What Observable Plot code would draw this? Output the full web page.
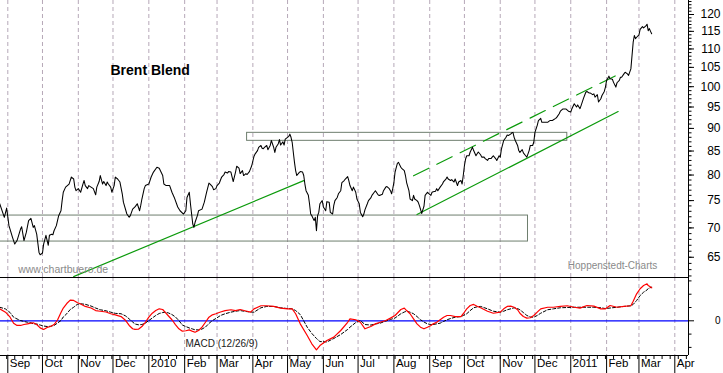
<!DOCTYPE html>
<html><head><meta charset="utf-8">
<script src="https://cdn.jsdelivr.net/npm/d3@7"></script>
<script src="https://cdn.jsdelivr.net/npm/@observablehq/plot@0.6"></script>
<style>
body{margin:0;background:#fff;}
#chart svg{display:block;}
#bottom{margin-top:-1px;}
</style></head><body><div id="chart"><div id="top"></div><div id="bottom"></div></div>
<script>
// ---------- Price (Brent Blend, USD) ----------
const priceDates = [
"2009-08-25","2009-08-29","2009-08-31","2009-09-02","2009-09-05","2009-09-07","2009-09-09","2009-09-12","2009-09-13","2009-09-15",
"2009-09-17","2009-09-19","2009-09-21","2009-09-23","2009-09-24","2009-09-26","2009-09-28","2009-09-29","2009-10-01","2009-10-02",
"2009-10-04","2009-10-06","2009-10-07","2009-10-09","2009-10-10","2009-10-11","2009-10-13","2009-10-15","2009-10-17","2009-10-18",
"2009-10-19","2009-10-21","2009-10-24","2009-10-26","2009-10-28","2009-10-29","2009-10-30","2009-11-01","2009-11-03","2009-11-05",
"2009-11-06","2009-11-07","2009-11-09","2009-11-10","2009-11-12","2009-11-14","2009-11-16","2009-11-17","2009-11-19","2009-11-20",
"2009-11-22","2009-11-23","2009-11-25","2009-11-26","2009-11-27","2009-11-29","2009-11-30","2009-12-02","2009-12-03","2009-12-05",
"2009-12-06","2009-12-07",
"2009-12-09","2009-12-10","2009-12-13","2009-12-15","2009-12-16","2009-12-18","2009-12-20","2009-12-21","2009-12-22","2009-12-24",
"2009-12-25","2009-12-26","2009-12-28","2009-12-29","2010-01-01","2010-01-03","2010-01-05","2010-01-08","2010-01-10","2010-01-13",
"2010-01-14","2010-01-16","2010-01-19","2010-01-21","2010-01-23","2010-01-26","2010-01-28","2010-01-31","2010-02-02","2010-02-03",
"2010-02-05","2010-02-06","2010-02-07","2010-02-08","2010-02-09","2010-02-10","2010-02-12","2010-02-13","2010-02-16","2010-02-18",
"2010-02-20","2010-02-22","2010-02-23","2010-02-25","2010-02-26","2010-02-28","2010-03-01","2010-03-03","2010-03-05","2010-03-07",
"2010-03-08","2010-03-10","2010-03-11",
"2010-03-13","2010-03-15","2010-03-17","2010-03-18","2010-03-20","2010-03-21","2010-03-23","2010-03-24","2010-03-26","2010-03-27",
"2010-03-29","2010-03-31","2010-04-02","2010-04-03","2010-04-05","2010-04-06","2010-04-08","2010-04-09","2010-04-10","2010-04-11",
"2010-04-13","2010-04-14","2010-04-16","2010-04-17","2010-04-19","2010-04-20","2010-04-21","2010-04-23","2010-04-24","2010-04-25",
"2010-04-27","2010-04-28","2010-04-29","2010-05-01","2010-05-02","2010-05-03","2010-05-04","2010-05-05","2010-05-06","2010-05-07",
"2010-05-08","2010-05-09","2010-05-11","2010-05-12","2010-05-14","2010-05-15","2010-05-16","2010-05-17","2010-05-19","2010-05-20",
"2010-05-21","2010-05-22","2010-05-24","2010-05-25","2010-05-26","2010-05-27","2010-05-28","2010-05-29","2010-05-31","2010-06-01",
"2010-06-03","2010-06-04","2010-06-06","2010-06-07","2010-06-09","2010-06-10","2010-06-11","2010-06-13","2010-06-14","2010-06-16",
"2010-06-17","2010-06-19","2010-06-20","2010-06-22","2010-06-23","2010-06-24","2010-06-26","2010-06-27","2010-06-29","2010-06-30",
"2010-07-02","2010-07-03","2010-07-05","2010-07-06","2010-07-07","2010-07-09","2010-07-10","2010-07-12","2010-07-13","2010-07-15",
"2010-07-16","2010-07-18","2010-07-19","2010-07-20","2010-07-22","2010-07-23","2010-07-25","2010-07-26","2010-07-28","2010-07-29",
"2010-07-30","2010-07-31","2010-08-01","2010-08-02","2010-08-04","2010-08-05","2010-08-07","2010-08-08","2010-08-10","2010-08-11",
"2010-08-12","2010-08-14","2010-08-15","2010-08-17","2010-08-18","2010-08-19","2010-08-21","2010-08-22","2010-08-23","2010-08-24",
"2010-08-25","2010-08-27","2010-08-28","2010-08-30","2010-08-31","2010-09-02","2010-09-03","2010-09-04","2010-09-06","2010-09-07",
"2010-09-08","2010-09-10","2010-09-12",
"2010-09-13","2010-09-15","2010-09-16","2010-09-17","2010-09-19","2010-09-20","2010-09-22","2010-09-23","2010-09-25","2010-09-26",
"2010-09-28","2010-09-29","2010-09-30","2010-10-01","2010-10-02","2010-10-03","2010-10-05","2010-10-06","2010-10-08","2010-10-09",
"2010-10-11","2010-10-12","2010-10-13","2010-10-15","2010-10-16","2010-10-18","2010-10-19","2010-10-21","2010-10-22","2010-10-24",
"2010-10-25","2010-10-26","2010-10-28","2010-10-29","2010-10-31","2010-11-01","2010-11-02","2010-11-04","2010-11-06","2010-11-07",
"2010-11-08","2010-11-10","2010-11-11","2010-11-12","2010-11-13","2010-11-14","2010-11-16","2010-11-17","2010-11-18","2010-11-20",
"2010-11-21","2010-11-23","2010-11-24","2010-11-26","2010-11-27","2010-11-29","2010-11-30","2010-12-01","2010-12-03","2010-12-04",
"2010-12-06","2010-12-07","2010-12-09","2010-12-10","2010-12-12","2010-12-13","2010-12-14","2010-12-16","2010-12-17","2010-12-19",
"2010-12-20","2010-12-22",
"2010-12-23","2010-12-25","2010-12-28","2010-12-30","2011-01-01","2011-01-02","2011-01-04","2011-01-06","2011-01-07","2011-01-09",
"2011-01-10","2011-01-12","2011-01-14","2011-01-15","2011-01-17","2011-01-18","2011-01-20","2011-01-21","2011-01-22","2011-01-24",
"2011-01-25","2011-01-27","2011-01-28","2011-01-30","2011-01-31","2011-02-01","2011-02-03","2011-02-04","2011-02-06","2011-02-07",
"2011-02-09","2011-02-10","2011-02-12","2011-02-13","2011-02-14","2011-02-16","2011-02-17","2011-02-19","2011-02-20","2011-02-22",
"2011-02-23","2011-02-24","2011-02-25","2011-02-26","2011-02-27","2011-03-01","2011-03-02","2011-03-04","2011-03-05","2011-03-07",
"2011-03-08","2011-03-09","2011-03-10","2011-03-11","2011-03-12"
];
const priceValues = [
74.4,71.9,73.6,70.4,68.4,67.2,67.8,69.8,70.2,67.8,
69.2,71.3,71.7,70.1,70.4,68.9,65.8,65.4,65.7,67.2,
68.7,67.0,68.7,68.9,68.8,69.5,70.4,72.2,73.1,75.0,
76.6,77.6,78.2,79.6,79.2,77.6,76.9,77.3,76.6,78.2,
78.9,77.9,77.3,77.9,77.6,77.3,76.1,77.6,78.7,79.9,
78.2,78.7,77.9,78.6,78.2,77.6,76.6,77.9,79.6,79.2,
78.9,78.6,
76.3,74.7,72.5,71.9,72.2,73.4,73.8,74.1,74.4,73.1,
74.1,75.3,77.3,77.9,78.2,79.6,80.6,81.6,81.4,79.9,
78.2,77.9,77.9,76.6,75.6,73.8,73.1,72.5,73.1,75.6,
76.6,74.4,72.5,70.7,70.1,71.0,72.2,73.1,73.4,74.7,
76.6,78.4,78.2,77.7,77.1,77.3,77.9,78.4,79.6,80.1,
80.6,80.4,80.7,
80.6,78.7,80.6,81.8,81.4,80.3,80.9,79.9,80.3,80.1,
80.7,81.9,83.9,84.4,85.1,85.8,86.2,85.6,85.5,85.8,
86.2,85.3,86.2,87.3,85.8,84.7,85.8,86.6,87.5,86.3,
87.0,86.3,87.6,88.0,88.2,88.7,88.0,86.9,84.7,82.6,
80.9,79.9,80.5,80.7,80.6,79.9,78.2,76.9,76.0,74.4,
72.5,72.2,71.3,71.9,69.5,72.2,72.8,74.4,75.0,73.8,
73.1,74.8,74.7,72.8,72.5,74.1,75.0,75.6,76.3,76.9,
78.5,78.9,79.2,79.7,78.9,77.9,76.9,77.6,76.6,75.3,
74.4,72.8,72.0,72.5,73.3,74.4,75.0,75.5,76.0,76.6,
76.9,76.2,76.0,76.0,76.2,76.9,77.6,77.7,77.3,76.9,
76.3,77.3,78.5,80.6,82.4,82.6,81.6,81.3,80.9,79.9,
78.5,76.9,75.3,75.0,76.0,75.3,75.0,74.7,74.1,73.4,
72.6,73.9,76.0,76.6,76.4,76.0,76.6,76.7,76.8,77.3,
76.9,77.6,78.2,
78.7,79.2,79.6,79.2,78.9,79.1,78.6,79.2,77.9,78.6,
78.9,78.2,79.9,81.9,83.3,84.0,84.0,84.8,85.8,85.1,
84.0,84.4,84.8,84.2,83.7,83.7,83.4,83.0,83.4,83.4,
83.7,84.0,83.4,83.0,84.0,83.7,85.4,87.3,88.0,88.5,
88.4,88.7,89.0,89.1,88.0,87.3,86.2,85.1,84.7,85.3,
84.6,84.0,83.7,85.1,86.2,86.2,86.9,89.1,90.7,91.8,
92.3,91.4,91.4,91.4,91.4,91.6,91.8,91.8,92.0,92.3,
92.6,93.4,
94.0,94.5,94.5,94.0,93.8,94.6,95.8,95.0,95.5,94.6,
95.4,97.1,98.6,98.8,98.4,98.4,98.0,98.2,97.4,98.0,
96.2,97.0,97.8,98.8,99.9,101.6,102.7,102.0,101.9,101.1,
99.9,101.0,101.6,102.4,102.4,103.3,103.7,103.3,102.9,104.6,
108.2,111.9,113.8,112.9,113.3,114.0,115.6,116.4,116.0,116.6,
117.1,115.2,115.8,115.0,114.3
];

// ---------- MACD (12/26/9) and signal ----------
const macdDates = [
"2009-08-25","2009-08-30","2009-09-03","2009-09-06","2009-09-09","2009-09-12","2009-09-15","2009-09-18","2009-09-21","2009-09-23",
"2009-09-26","2009-09-29","2009-10-02","2009-10-05","2009-10-08","2009-10-11","2009-10-14","2009-10-17","2009-10-19","2009-10-22",
"2009-10-25","2009-10-28","2009-10-31","2009-11-03","2009-11-07","2009-11-12","2009-11-16","2009-11-20","2009-11-25","2009-11-29",
"2009-12-03","2009-12-08","2009-12-12","2009-12-15","2009-12-18","2009-12-20","2009-12-23","2009-12-26","2009-12-29","2010-01-01",
"2010-01-04","2010-01-07","2010-01-10","2010-01-13","2010-01-15","2010-01-18","2010-01-21","2010-01-24","2010-01-27","2010-01-30",
"2010-02-02","2010-02-05","2010-02-08","2010-02-10","2010-02-13","2010-02-16","2010-02-19","2010-02-22","2010-02-25","2010-02-28",
"2010-03-04","2010-03-08","2010-03-13","2010-03-17","2010-03-21","2010-03-26","2010-03-30","2010-04-02","2010-04-08","2010-04-13",
"2010-04-19","2010-04-25","2010-05-01","2010-05-05","2010-05-08","2010-05-12","2010-05-18","2010-05-22","2010-05-26","2010-05-29",
"2010-06-04","2010-06-10","2010-06-16","2010-06-22","2010-06-24","2010-06-29","2010-07-03","2010-07-07","2010-07-12","2010-07-16",
"2010-07-20","2010-07-25","2010-07-29","2010-08-02","2010-08-07","2010-08-10","2010-08-12","2010-08-15","2010-08-18","2010-08-21",
"2010-08-24","2010-08-27","2010-08-30","2010-09-02","2010-09-04","2010-09-07","2010-09-10","2010-09-13","2010-09-16","2010-09-19",
"2010-09-23","2010-09-28","2010-09-30","2010-10-03","2010-10-06","2010-10-09","2010-10-12","2010-10-15","2010-10-21","2010-10-26",
"2010-11-01","2010-11-04","2010-11-07","2010-11-10","2010-11-13","2010-11-16","2010-11-18","2010-11-21","2010-11-24","2010-11-27",
"2010-11-30","2010-12-03","2010-12-06","2010-12-12","2010-12-17","2010-12-23","2010-12-29","2011-01-04","2011-01-09","2011-01-15",
"2011-01-21","2011-01-27","2011-01-31","2011-02-04","2011-02-10","2011-02-16","2011-02-22","2011-02-24","2011-02-27","2011-03-02",
"2011-03-05","2011-03-08","2011-03-09","2011-03-12"
];
const macdValues = [
0.90,0.65,0.27,-0.18,-0.35,-0.35,-0.28,-0.23,-0.18,-0.15,
-0.28,-0.53,-0.65,-0.50,-0.43,-0.28,0.06,0.62,0.96,1.30,
1.55,1.53,1.38,1.26,1.08,0.96,0.77,0.72,0.66,0.53,
0.44,0.32,0.02,-0.35,-0.60,-0.65,-0.63,-0.43,-0.11,0.27,
0.57,0.77,0.90,0.85,0.65,0.36,0.08,-0.28,-0.60,-0.78,
-0.75,-0.68,-0.80,-0.86,-0.73,-0.48,-0.11,0.27,0.45,0.53,
0.66,0.77,0.83,0.77,0.85,0.74,0.65,0.90,1.13,1.13,
1.08,0.95,0.90,0.90,0.53,-0.23,-1.11,-1.73,-2.18,-1.86,
-1.48,-1.23,-0.73,-0.11,0.15,0.08,-0.11,-0.60,-0.43,-0.23,
-0.11,0.02,0.20,0.40,0.85,0.95,0.77,0.53,0.15,-0.23,
-0.48,-0.60,-0.48,-0.35,-0.23,-0.11,0.08,0.27,0.40,0.40,
0.32,0.32,0.53,0.90,1.15,1.23,1.10,0.98,0.72,0.57,
0.65,0.90,1.08,1.10,1.02,0.83,0.57,0.32,0.20,0.23,
0.40,0.65,0.90,1.02,1.02,1.08,1.13,1.02,0.95,1.15,
1.10,0.90,0.90,1.15,1.02,1.08,1.13,1.47,2.03,2.41,
2.65,2.78,2.65,2.48
];
const signalValues = [
1.02,0.89,0.62,0.27,0.14,0.02,-0.05,-0.11,-0.15,-0.23,
-0.24,-0.32,-0.39,-0.43,-0.41,-0.35,-0.17,0.02,0.29,0.53,
0.85,1.02,1.23,1.28,1.24,1.11,0.96,0.83,0.75,0.65,
0.56,0.53,0.36,0.14,-0.09,-0.24,-0.30,-0.28,-0.17,0.02,
0.21,0.40,0.55,0.62,0.65,0.59,0.47,0.29,0.02,-0.32,
-0.43,-0.54,-0.62,-0.68,-0.68,-0.62,-0.47,-0.20,0.02,0.17,
0.40,0.53,0.65,0.72,0.77,0.70,0.66,0.65,0.98,1.08,
1.08,0.98,0.92,0.90,0.77,0.47,-0.48,-0.95,-1.33,-1.56,
-1.59,-1.33,-1.03,-0.65,-0.48,-0.13,0.02,-0.28,-0.32,-0.24,
-0.18,-0.02,0.10,0.21,0.53,0.66,0.72,0.65,0.53,0.32,
0.08,-0.09,-0.23,-0.28,-0.28,-0.23,-0.18,-0.05,0.08,0.17,
0.27,0.32,0.40,0.53,0.77,0.98,1.05,1.08,0.90,0.72,
0.65,0.72,0.83,0.90,0.98,0.92,0.83,0.62,0.40,0.29,
0.27,0.40,0.57,0.83,0.90,0.98,1.00,1.02,1.02,1.02,
1.02,0.98,0.92,0.96,1.02,1.08,1.13,1.23,1.53,1.90,
2.15,2.32,2.43,2.53
];

// ---------- Axis categories / ticks ----------
const monthStarts = ["2009-09-01","2009-10-01","2009-11-01","2009-12-01","2010-01-01","2010-02-01","2010-03-01","2010-04-01","2010-05-01","2010-06-01",
"2010-07-01","2010-08-01","2010-09-01","2010-10-01","2010-11-01","2010-12-01","2011-01-01","2011-02-01","2011-03-01","2011-04-01"];
const monthLabels = ["Sep","Oct","Nov","Dec","2010","Feb","Mar","Apr","May","Jun","Jul","Aug","Sep","Oct","Nov","Dec","2011","Feb","Mar","Apr"];
const priceTicks = [65,70,75,80,85,90,95,100,105,110,115,120];
const macdTicks = [0];

// ---------- Annotations (drawn in data space) ----------
const boxFrom = ["2009-08-01","2010-03-27"];
const boxTo = ["2010-11-25","2010-12-29"];
const boxLow = [67.63,87.22];
const boxHigh = [72.22,89.0];
const trendADates = ["2009-10-28","2010-05-15"];
const trendAValues = [61.9,78.87];
const channelLowDates = ["2010-08-21","2011-02-11"];
const channelLowValues = [72.4,93.92];
const channelHighDates = ["2010-08-18","2011-02-15"];
const channelHighValues = [79.85,103.73];

// ---------- Build tables ----------
const P = s => new Date(s);
const price = priceDates.map((d,i)=>({date:P(d), value:priceValues[i]}));
const macd = macdDates.map((d,i)=>({date:P(d), macd:macdValues[i], signal:signalValues[i]}));
const months = monthStarts.map((d,i)=>({date:P(d), label:monthLabels[i]}));
const boxes = boxFrom.map((d,i)=>({from:P(d), to:P(boxTo[i]), low:boxLow[i], high:boxHigh[i]}));
const pairs = (ds,vs)=>ds.map((d,i)=>({date:P(d), value:vs[i]}));
const trendA = pairs(trendADates,trendAValues);
const chLow = pairs(channelLowDates,channelLowValues);
const chHigh = pairs(channelHighDates,channelHighValues);

const xDomain = [new Date("2009-08-25T16:26:00Z"), new Date("2011-04-12T20:24:00Z")];
const yDomain = [61.76,124.32];
const macdDomain = [-2.609,3.256];
const font = '"Liberation Sans", Arial, Helvetica, sans-serif';
const gridColor = "#b6a8b8";
const green = "#0b9a0b";

const topChart = Plot.plot({
  width:723, height:277, marginTop:0, marginBottom:0, marginLeft:0, marginRight:35,
  style:{fontFamily:font, fontSize:"12px", background:"#fff", color:"#000"},
  x:{type:"utc", domain:xDomain, axis:null},
  y:{type:"log", domain:yDomain},
  marks:[
    Plot.ruleX(months, {x:"date", stroke:gridColor, strokeDasharray:"4,3"}),
    Plot.rect(boxes, {x1:"from", x2:"to", y1:"low", y2:"high", fill:"none", stroke:"#6e7e6e", strokeWidth:1}),
    Plot.line(trendA, {x:"date", y:"value", stroke:green, strokeWidth:1.2}),
    Plot.line(chLow, {x:"date", y:"value", stroke:green, strokeWidth:1.2}),
    Plot.line(chHigh, {x:"date", y:"value", stroke:green, strokeWidth:1.2, strokeDasharray:"17,9"}),
    Plot.line(price, {x:"date", y:"value", stroke:"#000", strokeWidth:1.05}),
    Plot.ruleX([xDomain[1]], {stroke:"#000"}),
    Plot.axisY(d3.range(62,125), {anchor:"right", tickSize:2.5, fill:"none", label:null}),
    Plot.axisY(priceTicks, {anchor:"right", tickSize:5, fill:"none", label:null}),
    Plot.text(priceTicks, {y:d=>d, text:d=>String(d), frameAnchor:"right", dx:32, textAnchor:"end", fontSize:12, fill:"#000"}),
    Plot.text(["Brent Blend"], {text:d=>d, frameAnchor:"top-left", dx:110, dy:65, textAnchor:"start", fontWeight:"bold", fontSize:14, fill:"#000"}),
    Plot.text(["www.chartbuero.de"], {text:d=>d, frameAnchor:"top-left", dx:17.7, dy:264.7, textAnchor:"start", fontSize:10.5, fill:"#8a8a8a"}),
    Plot.text(["Hoppenstedt-Charts"], {text:d=>d, frameAnchor:"top-left", dx:567.3, dy:261.4, textAnchor:"start", fontSize:10, fill:"#8a8a8a"})
  ]
});
document.getElementById("top").appendChild(topChart);

const weeks = d3.utcMonday.range(xDomain[0], xDomain[1]);
const bottomChart = Plot.plot({
  width:723, height:97, marginTop:1, marginBottom:18, marginLeft:0, marginRight:35,
  style:{fontFamily:font, fontSize:"12px", background:"#fff", color:"#000"},
  x:{type:"utc", domain:xDomain},
  y:{domain:macdDomain},
  marks:[
    Plot.ruleX(months, {x:"date", stroke:gridColor, strokeDasharray:"4,3"}),
    Plot.ruleY([0], {stroke:"#0000ff", strokeWidth:1.3}),
    Plot.line(macd, {x:"date", y:"signal", stroke:"#000", strokeWidth:1, strokeDasharray:"3,2"}),
    Plot.line(macd, {x:"date", y:"macd", stroke:"#ff0000", strokeWidth:1.2}),
    Plot.ruleY([macdDomain[1]], {stroke:"#000", strokeWidth:1.2}),
    Plot.ruleY([macdDomain[0]], {stroke:"#000"}),
    Plot.ruleX([xDomain[1]], {stroke:"#000"}),
    Plot.axisY([-2,-1,1,2,3], {anchor:"right", tickSize:2.5, fill:"none", label:null}),
    Plot.axisY(macdTicks, {anchor:"right", tickSize:5, fill:"none", label:null}),
    Plot.text(macdTicks, {y:d=>d, text:d=>String(d), frameAnchor:"right", dx:32, textAnchor:"end", fontSize:10, fill:"#000"}),
    Plot.axisX(weeks, {anchor:"bottom", tickSize:4, fill:"none", label:null}),
    Plot.axisX(months.map(d=>d.date), {anchor:"bottom", tickSize:18, fill:"none", label:null}),
    Plot.text(months, {x:"date", text:"label", frameAnchor:"bottom", dy:11.3, dx:2, textAnchor:"start", fontSize:11.5, fill:"#000", ariaLabel:"month-labels"}),
    Plot.text(["MACD (12/26/9)"], {text:d=>d, frameAnchor:"top-left", dx:185, dy:62.3, textAnchor:"start", fontSize:10, fill:"#222"})
  ]
});
document.getElementById("bottom").appendChild(bottomChart);

// clip the month labels at the right axis (the last label is cut off in the original)
const sb = d3.select(bottomChart);
sb.append("defs").append("clipPath").attr("id","monthClip")
  .append("rect").attr("x",-10).attr("y",-300).attr("width",698).attr("height",700);
sb.select('g[aria-label="month-labels"]').attr("clip-path","url(#monthClip)");
</script>
</body></html>
